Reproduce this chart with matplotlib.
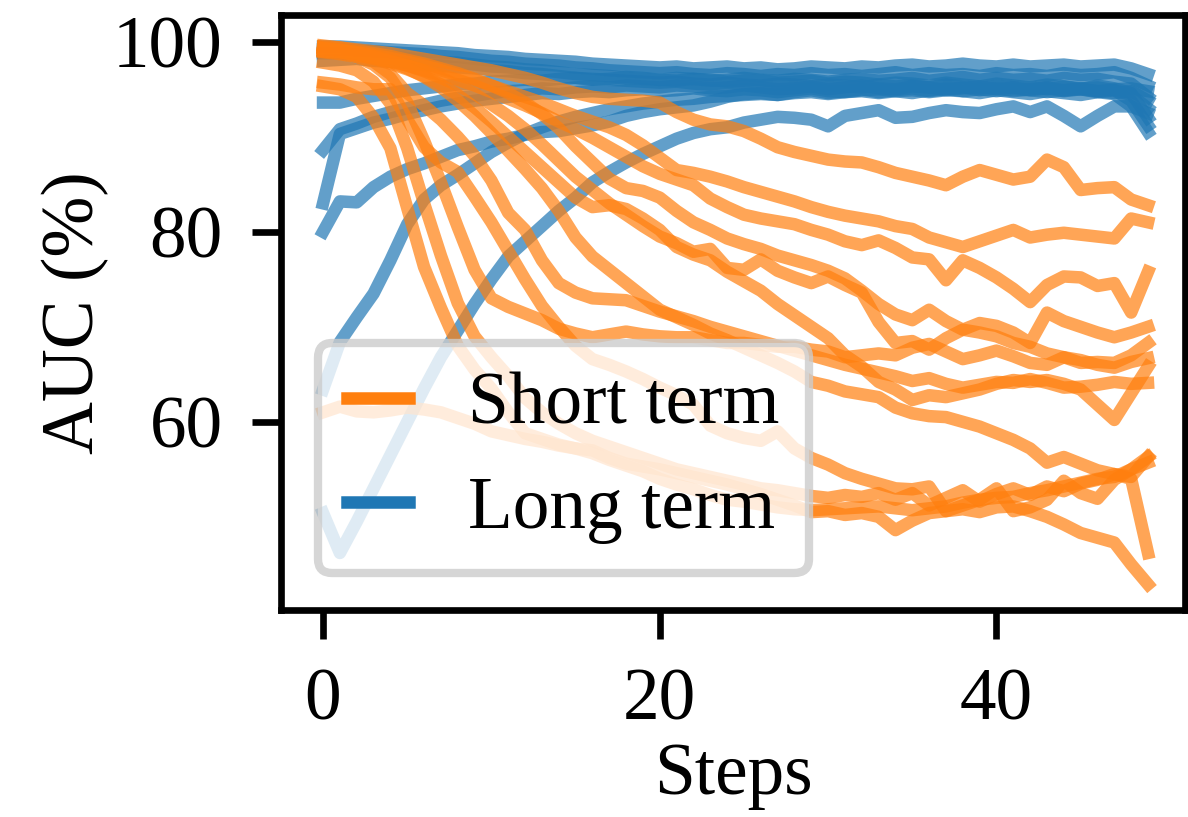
import matplotlib
matplotlib.use('Agg')
import matplotlib.pyplot as plt
from matplotlib.lines import Line2D

steps = list(range(50))

# ---- Short term (orange) ----
short_o1 = [99.5, 99.4, 99.2, 99.0, 98.8, 98.5, 98.2, 97.9, 97.6, 97.3,
            97.0, 96.6, 96.2, 95.7, 95.1, 94.6, 94.2, 94.0, 93.9, 93.8,
            93.6, 92.6, 91.8, 91.3, 91.1, 90.6, 89.8, 88.9, 88.4, 88.0,
            87.6, 87.4, 87.3, 86.8, 86.2, 85.8, 85.4, 84.9, 85.8, 86.5,
            86.0, 85.5, 85.8, 87.6, 86.8, 84.4, 84.6, 84.7, 83.4, 82.8]
short_o2 = [99.3, 99.1, 98.9, 98.6, 98.3, 97.9, 97.5, 97.0, 96.5, 96.0,
            95.4, 94.8, 94.2, 93.6, 92.9, 92.2, 91.6, 91.0, 90.2, 89.1,
            87.8, 86.5, 86.2, 85.8, 85.3, 84.7, 84.2, 83.7, 83.2, 82.6,
            82.1, 81.7, 81.4, 81.1, 80.6, 80.3, 79.4, 78.9, 78.4, 79.0,
            79.6, 80.2, 79.4, 79.7, 79.9, 79.7, 79.5, 79.3, 81.4, 81.0]
short_o3 = [99.0, 98.9, 98.6, 98.3, 97.9, 97.5, 97.0, 96.5, 96.0, 95.4,
            94.7, 94.0, 93.3, 92.5, 91.6, 90.8, 89.9, 88.9, 87.9, 86.9,
            86.1, 85.5, 84.9, 83.5, 82.6, 81.8, 81.4, 81.1, 80.8, 80.2,
            79.7, 79.0, 78.6, 79.1, 78.3, 77.3, 77.1, 74.9, 77.0, 76.2,
            75.2, 74.0, 72.6, 74.4, 75.3, 75.2, 74.3, 74.6, 71.5, 75.8]
short_o4 = [99.6, 99.4, 99.1, 98.8, 98.5, 98.1, 97.7, 97.2, 96.7, 96.1,
            95.4, 94.6, 93.6, 92.4, 90.9, 89.0, 87.3, 85.6, 84.6, 84.3,
            83.6, 82.2, 81.0, 80.2, 79.3, 78.7, 78.2, 77.5, 77.0, 76.5,
            75.9, 75.1, 73.8, 72.4, 71.3, 70.7, 71.8, 70.6, 69.7, 70.4,
            70.1, 69.4, 68.3, 71.5, 70.6, 70.0, 69.4, 68.9, 69.4, 70.0]
short_o5 = [99.4, 99.2, 98.9, 98.5, 98.0, 97.5, 96.9, 96.2, 95.4, 94.5,
            93.4, 92.2, 90.8, 89.2, 87.5, 85.8, 84.4, 83.0, 81.8, 80.6,
            79.5, 78.8, 77.9, 78.2, 76.2, 76.0, 77.1, 75.9, 75.2, 74.6,
            75.3, 74.4, 73.6, 70.5, 68.3, 68.5, 67.6, 68.8, 69.7, 69.4,
            69.0, 68.3, 67.9, 67.2, 66.8, 66.2, 66.3, 66.2, 67.0, 68.3]
short_o6 = [99.1, 98.9, 98.6, 98.2, 97.7, 97.1, 96.4, 95.5, 94.4, 93.1,
            91.6, 90.0, 88.4, 86.8, 85.2, 83.6, 82.6, 82.8, 82.4, 81.4,
            80.2, 78.4, 77.6, 77.0, 75.8, 74.8, 73.8, 72.4, 71.2, 70.0,
            68.8, 67.0, 65.8, 64.2, 63.4, 62.3, 62.8, 62.6, 63.0, 63.4,
            64.0, 64.4, 64.2, 64.4, 64.0, 63.4, 61.8, 60.2, 63.0, 65.8]
short_o7 = [98.9, 98.7, 98.4, 97.9, 96.6, 94.6, 93.3, 91.8, 90.0, 88.0,
            85.4, 82.0, 80.2, 77.0, 74.6, 73.6, 73.0, 72.9, 72.8, 72.2,
            71.6, 71.1, 70.6, 70.0, 69.5, 69.0, 68.5, 68.0, 67.5, 67.0,
            66.5, 66.0, 65.6, 65.2, 64.8, 64.3, 64.6, 64.0, 63.6, 63.9,
            64.2, 64.1, 64.5, 64.1, 63.6, 63.7, 63.9, 64.2, 64.0, 64.1]
short_o8 = [99.3, 99.1, 98.8, 98.4, 97.9, 97.2, 96.3, 95.2, 93.8, 92.2,
            90.4, 88.5, 86.6, 84.6, 82.2, 79.4, 77.4, 76.0, 74.6, 73.2,
            71.8, 71.0, 70.2, 69.3, 68.6, 67.8, 67.0, 66.2, 65.3, 64.2,
            63.8, 63.2, 62.9, 62.6, 61.5, 60.9, 60.6, 60.5, 60.0, 59.5,
            58.8, 58.1, 57.2, 55.7, 56.3, 55.6, 54.9, 54.5, 54.2, 56.3]
short_o9 = [99.0, 98.8, 98.4, 97.6, 96.2, 93.6, 89.6, 85.2, 80.5, 76.0,
            73.0, 72.1, 71.4, 70.7, 69.8, 69.3, 68.9, 69.2, 69.5, 69.2,
            69.0, 68.9, 68.9, 68.6, 68.3, 68.3, 68.1, 67.9, 67.9, 67.6,
            67.4, 66.8, 67.0, 67.2, 67.0, 67.8, 68.2, 67.4, 66.6, 67.0,
            67.5, 66.9, 66.2, 66.0, 66.8, 66.5, 66.0, 65.7, 66.3, 66.7]
short_o10 = [95.7, 95.5, 95.2, 95.0, 95.0, 91.8, 88.9, 87.3, 86.3, 83.7,
             81.0, 78.0, 75.0, 72.2, 70.0, 68.0, 66.6, 66.0, 65.3, 64.5,
             63.6, 62.8, 61.8, 59.6, 58.8, 58.3, 58.0, 59.0, 57.2, 56.2,
             55.5, 54.6, 54.0, 53.5, 53.0, 52.9, 53.2, 50.6, 51.2, 51.8,
             53.0, 50.6, 51.0, 51.8, 53.8, 52.5, 51.9, 53.9, 55.0, 56.3]
short_o11 = [95.3, 95.0, 94.2, 92.0, 88.8, 82.5, 76.3, 72.0, 68.0, 65.5,
             63.5, 61.0, 58.8, 58.2, 57.6, 57.2, 56.7, 56.0, 55.4, 54.8,
             54.0, 53.4, 52.9, 52.3, 51.8, 51.6, 51.3, 51.0, 50.8, 50.7,
             50.8, 50.9, 51.0, 51.1, 50.9, 50.7, 50.9, 51.1, 51.5, 51.8,
             52.0, 52.1, 52.5, 52.8, 53.2, 53.6, 54.0, 54.2, 55.0, 55.7]
short_o12 = [97.8, 97.5, 97.0, 95.8, 93.5, 88.8, 83.0, 77.5, 72.5, 69.0,
             66.8, 64.8, 62.5, 61.0, 59.8, 58.8, 58.0, 57.4, 56.8, 56.2,
             55.6, 55.0, 54.6, 54.2, 53.8, 53.4, 53.0, 52.8, 52.5, 52.2,
             52.0, 52.3, 52.1, 52.5, 51.8, 52.5, 51.2, 52.0, 52.8, 51.6,
             52.4, 53.0, 52.3, 53.2, 52.7, 53.5, 53.9, 54.5, 54.0, 46.2]
short_o13 = [61.0, 61.6, 61.1, 61.0, 61.2, 61.5, 61.3, 61.0, 60.4, 59.8,
             59.0, 58.6, 58.2, 57.9, 57.5, 57.2, 57.0, 56.2, 55.6, 55.3,
             55.0, 54.6, 54.2, 53.8, 53.4, 52.9, 52.4, 51.8, 51.2, 50.5,
             50.6, 50.2, 50.4, 50.0, 48.6, 49.6, 50.4, 50.6, 50.8, 50.5,
             51.0, 51.1, 50.6, 50.0, 49.2, 48.3, 47.8, 47.3, 45.0, 42.9]

# ---- Long term (blue) ----
long_l1 = [93.6, 93.6, 94.0, 94.3, 94.6, 94.9, 95.1, 95.3, 95.5, 95.6,
           95.8, 95.9, 96.0, 95.9, 96.1, 96.2, 96.0, 96.1, 96.3, 96.2,
           96.0, 95.9, 96.1, 96.0, 95.8, 95.9, 96.0, 95.7, 95.8, 95.9,
           95.6, 95.8, 95.7, 95.5, 95.7, 95.6, 95.4, 95.7, 95.5, 95.3,
           95.6, 95.4, 95.2, 95.5, 95.3, 95.0, 95.4, 95.1, 94.6, 92.0]
long_l2 = [88.6, 90.8, 91.4, 92.1, 92.6, 93.0, 93.4, 93.8, 94.1, 94.3,
           94.6, 94.8, 94.9, 95.1, 95.0, 95.2, 95.3, 95.2, 95.4, 95.3,
           95.2, 95.4, 95.3, 95.1, 95.2, 95.4, 95.2, 95.0, 95.1, 95.3,
           95.0, 95.2, 95.4, 95.1, 95.0, 95.3, 95.2, 94.9, 95.1, 95.3,
           95.0, 95.2, 94.9, 95.1, 94.8, 95.0, 94.7, 94.9, 93.8, 91.2]
long_l3 = [83.0, 90.3, 90.9, 91.5, 91.9, 92.4, 92.8, 93.2, 93.5, 93.8,
           94.0, 94.2, 94.4, 94.6, 94.5, 94.7, 94.8, 94.7, 94.9, 95.0,
           94.8, 94.9, 95.1, 94.9, 94.8, 95.0, 94.9, 94.7, 94.9, 95.1,
           94.8, 94.7, 94.9, 95.0, 94.8, 94.6, 94.9, 95.1, 94.8, 94.6,
           94.9, 94.7, 94.5, 94.8, 94.6, 94.4, 94.7, 94.5, 93.2, 90.5]
long_l4 = [80.0, 83.2, 83.1, 84.7, 85.8, 86.6, 87.2, 87.9, 88.6, 89.0,
           89.5, 89.8, 90.2, 90.5, 90.6, 90.9, 91.2, 91.6, 92.2, 92.6,
           92.9, 93.1, 93.3, 93.7, 94.2, 94.5, 94.6, 94.4, 94.7, 94.9,
           94.6, 94.8, 95.0, 94.7, 94.9, 95.1, 94.8, 95.0, 95.2, 94.9,
           95.1, 94.8, 95.0, 95.2, 94.9, 95.1, 94.8, 95.0, 95.1, 94.8]
long_l5 = [63.4, 68.4, 71.0, 73.5, 77.0, 80.8, 83.4, 84.9, 86.0, 87.2,
           88.4, 89.4, 90.3, 91.0, 91.6, 92.1, 92.5, 92.9, 93.2, 93.5,
           93.7, 93.9, 94.0, 94.2, 94.3, 94.4, 94.5, 94.4, 94.6, 94.7,
           94.5, 94.7, 94.8, 94.6, 94.8, 94.9, 94.7, 94.9, 94.8, 95.0,
           94.8, 95.0, 94.9, 94.7, 94.9, 95.0, 94.8, 94.6, 94.8, 93.8]
long_l6 = [50.4, 46.2, 49.5, 53.0, 56.5, 60.0, 63.5, 66.8, 69.6, 72.4,
           75.0, 77.4, 79.0, 80.6, 82.2, 83.6, 85.2, 86.3, 87.3, 88.2,
           89.0, 89.8, 90.4, 90.8, 91.0, 91.5, 91.8, 92.1, 92.0, 91.8,
           91.1, 92.2, 92.5, 92.8, 92.0, 92.1, 92.5, 92.8, 92.6, 92.5,
           92.9, 93.2, 92.6, 93.2, 92.2, 91.1, 92.2, 93.2, 93.2, 92.5]
long_l7 = [98.0, 98.1, 98.2, 98.0, 97.9, 97.8, 97.6, 97.5, 97.3, 97.2,
           97.0, 96.9, 96.7, 96.6, 96.4, 96.2, 96.1, 96.0, 95.9, 95.8,
           95.7, 95.8, 95.6, 95.5, 95.7, 95.5, 95.4, 95.6, 95.5, 95.3,
           95.5, 95.4, 95.2, 95.5, 95.3, 95.4, 95.2, 95.5, 95.3, 95.1,
           95.4, 95.2, 95.3, 95.0, 95.3, 95.1, 95.2, 94.9, 94.4, 93.0]
long_l8 = [98.8, 98.8, 98.7, 98.6, 98.4, 98.3, 98.1, 97.9, 97.8, 97.6,
           97.4, 97.3, 97.1, 97.0, 96.8, 96.6, 96.5, 96.4, 96.2, 96.1,
           96.0, 96.2, 96.1, 95.9, 96.0, 96.2, 96.0, 95.9, 96.1, 96.0,
           95.8, 96.0, 96.1, 95.9, 96.0, 96.2, 95.9, 96.1, 96.3, 96.0,
           96.2, 96.0, 96.1, 95.9, 96.2, 96.0, 96.1, 95.8, 95.6, 94.2]
long_l9 = [99.2, 99.2, 99.1, 99.0, 98.9, 98.8, 98.7, 98.5, 98.4, 98.2,
           98.0, 97.9, 97.7, 97.6, 97.5, 97.3, 97.2, 97.0, 96.9, 96.8,
           96.7, 96.8, 96.6, 96.5, 96.7, 96.6, 96.4, 96.6, 96.5, 96.7,
           96.5, 96.6, 96.4, 96.6, 96.8, 96.5, 96.7, 96.5, 96.6, 96.4,
           96.7, 96.5, 96.6, 96.4, 96.7, 96.5, 96.6, 96.8, 96.2, 95.4]
long_l10 = [99.5, 99.5, 99.4, 99.3, 99.2, 99.1, 99.0, 98.9, 98.8, 98.6,
            98.5, 98.4, 98.2, 98.1, 98.0, 97.9, 97.7, 97.6, 97.5, 97.4,
            97.3, 97.4, 97.2, 97.3, 97.4, 97.2, 97.3, 97.1, 97.2, 97.4,
            97.3, 97.2, 97.4, 97.3, 97.5, 97.6, 97.4, 97.5, 97.7, 97.5,
            97.4, 97.6, 97.4, 97.5, 97.6, 97.4, 97.5, 97.6, 97.2, 96.6]

short_series = [short_o1, short_o2, short_o3, short_o4, short_o5, short_o6,
                short_o7, short_o8, short_o9, short_o10, short_o11,
                short_o12, short_o13]
long_series = [long_l1, long_l2, long_l3, long_l4, long_l5, long_l6,
               long_l7, long_l8, long_l9, long_l10]

legend_labels = ['Short term', 'Long term']
x_ticks = [0, 20, 40]
y_ticks = [60, 80, 100]

ORANGE = '#ff7f0e'
BLUE = '#1f77b4'

plt.rcParams['font.family'] = ['Liberation Serif', 'DejaVu Serif']
plt.rcParams['font.size'] = 8.8

fig = plt.figure(figsize=(1.98, 1.3617), dpi=600)
ax = fig.add_axes([0.2365, 0.2534, 0.761, 0.728])

for ys in long_series:
    ax.plot(steps, ys, color=BLUE, alpha=0.7, lw=1.5)
for ys in short_series:
    ax.plot(steps, ys, color=ORANGE, alpha=0.7, lw=1.5)

ax.set_xlim(-2.5, 51.2)
ax.set_ylim(40.2, 102.8)
ax.set_xticks(x_ticks)
ax.set_yticks(y_ticks)
ax.set_xlabel('Steps', labelpad=0.8)
ax.set_ylabel('AUC (%)', labelpad=0.4)

handles = [Line2D([], [], color=ORANGE, lw=1.5),
           Line2D([], [], color=BLUE, lw=1.5)]
ax.legend(handles, legend_labels, loc='lower left', handlelength=0.85)

fig.savefig('out.png', dpi=600)
